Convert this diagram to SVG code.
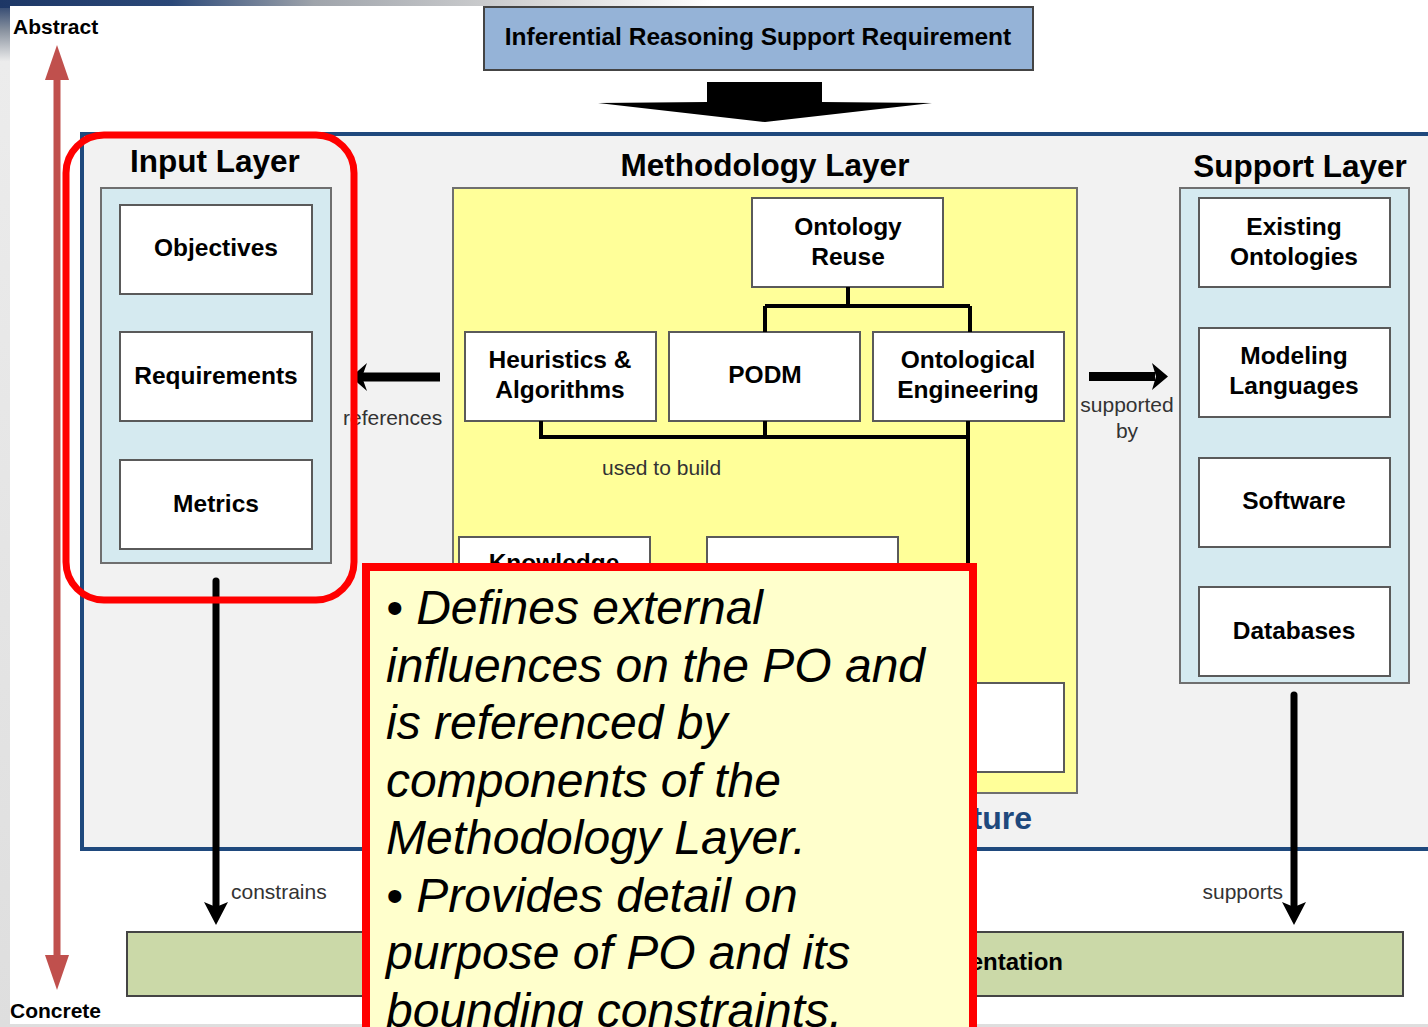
<svg xmlns="http://www.w3.org/2000/svg" width="1428" height="1027" viewBox="0 0 1428 1027">
  <defs>
    <linearGradient id="topBand" x1="0" y1="0" x2="1" y2="0">
      <stop offset="0" stop-color="#1d3766"/>
      <stop offset="0.12" stop-color="#2b4878"/>
      <stop offset="0.22" stop-color="#9fa4ab"/>
      <stop offset="0.38" stop-color="#d8d8d8"/>
      <stop offset="0.5" stop-color="#ffffff"/>
    </linearGradient>
    <linearGradient id="leftBand" x1="0" y1="0" x2="0" y2="1">
      <stop offset="0" stop-color="#1d3766"/>
      <stop offset="0.03" stop-color="#8a93a0"/>
      <stop offset="0.06" stop-color="#ececec"/>
      <stop offset="1" stop-color="#dedede"/>
    </linearGradient>
    <style>
      text { font-family: "Liberation Sans", Arial, sans-serif; fill: #000; }
      .node rect { fill: #ffffff; stroke: #5a5a5a; stroke-width: 2; }
      .node text { font-size: 24.5px; font-weight: bold; text-anchor: middle; }
      .container { stroke: #6f6f6f; stroke-width: 2; }
      .title { font-size: 31.5px; font-weight: bold; text-anchor: middle; }
      .label { font-size: 21px; fill: #333333; }
      .axis { font-size: 21px; font-weight: bold; }
      .wire { stroke: #000; stroke-width: 4; fill: none; }
      .shaft { stroke: #000; stroke-width: 7; stroke-linecap: round; fill: none; }
      .note { font-size: 48px; font-style: italic; }
    </style>
  </defs>

  <!-- slide background -->
  <rect x="0" y="0" width="1428" height="1027" fill="url(#leftBand)"/>
  <rect x="0" y="0" width="1428" height="8" fill="url(#topBand)"/>
  <rect x="10" y="6" width="1418" height="1018" fill="#ffffff"/>

  <!-- abstract / concrete axis -->
  <g id="axis">
    <text class="axis" x="13" y="34">Abstract</text>
    <text class="axis" x="10" y="1018">Concrete</text>
    <rect x="53.5" y="76" width="7" height="882" fill="#c0504d"/>
    <polygon points="45,80 57,45 69,80" fill="#c0504d"/>
    <polygon points="45,955 57,990 69,955" fill="#c0504d"/>
  </g>

  <!-- requirement banner -->
  <g id="requirement">
    <rect x="484" y="7" width="549" height="63" fill="#95b3d7" stroke="#444" stroke-width="2"/>
    <text x="758" y="45" font-size="24.5" font-weight="bold" text-anchor="middle">Inferential Reasoning Support Requirement</text>
  </g>
  <polygon id="req-arrow" points="707,82 822,82 822,102 932,103 765,122 598,103 707,102" fill="#000"/>

  <!-- architecture frame -->
  <g id="architecture">
    <rect x="82" y="134" width="1360" height="715" fill="#f2f2f2" stroke="#1f497d" stroke-width="4"/>
    <text x="1032" y="829" font-size="32" font-weight="bold" text-anchor="end" style="fill:#1f497d">ture</text>
  </g>

  <!-- input layer -->
  <g id="input-layer">
    <text class="title" x="215" y="172">Input Layer</text>
    <rect class="container" x="101" y="188" width="230" height="375" fill="#d5eaf0"/>
  </g>
  <g id="objectives" class="node"><rect x="120" y="205" width="192" height="89"/><text x="216" y="256">Objectives</text></g>
  <g id="requirements" class="node"><rect x="120" y="332" width="192" height="89"/><text x="216" y="384">Requirements</text></g>
  <g id="metrics" class="node"><rect x="120" y="460" width="192" height="89"/><text x="216" y="512">Metrics</text></g>

  <!-- methodology layer -->
  <g id="methodology-layer">
    <text class="title" x="765" y="176">Methodology Layer</text>
    <rect class="container" x="453" y="188" width="624" height="605" fill="#ffff99"/>
    <text class="label" x="602" y="475">used to build</text>
  </g>
  <g id="ontology-reuse" class="node"><rect x="752" y="198" width="191" height="89"/><text x="848" y="235">Ontology</text><text x="848" y="265">Reuse</text></g>
  <g id="heuristics" class="node"><rect x="465" y="332" width="191" height="89"/><text x="560" y="368">Heuristics &amp;</text><text x="560" y="398">Algorithms</text></g>
  <g id="podm" class="node"><rect x="669" y="332" width="191" height="89"/><text x="765" y="383">PODM</text></g>
  <g id="ontological-engineering" class="node"><rect x="873" y="332" width="191" height="89"/><text x="968" y="368">Ontological</text><text x="968" y="398">Engineering</text></g>
  <g id="knowledge" class="node"><rect x="459" y="537" width="191" height="120"/><text x="554" y="571">Knowledge</text></g>
  <g id="method-box-2" class="node"><rect x="707" y="537" width="191" height="120"/></g>
  <g id="method-box-3" class="node"><rect x="873" y="683" width="191" height="89"/></g>

  <!-- support layer -->
  <g id="support-layer">
    <text class="title" x="1300" y="177">Support Layer</text>
    <rect class="container" x="1180" y="188" width="229" height="495" fill="#d5eaf0"/>
  </g>
  <g id="existing-ontologies" class="node"><rect x="1199" y="198" width="191" height="89"/><text x="1294" y="235">Existing</text><text x="1294" y="265">Ontologies</text></g>
  <g id="modeling-languages" class="node"><rect x="1199" y="328" width="191" height="89"/><text x="1294" y="364">Modeling</text><text x="1294" y="394">Languages</text></g>
  <g id="software" class="node"><rect x="1199" y="458" width="191" height="89"/><text x="1294" y="509">Software</text></g>
  <g id="databases" class="node"><rect x="1199" y="587" width="191" height="89"/><text x="1294" y="639">Databases</text></g>

  <!-- implementation bar -->
  <g id="implementation">
    <rect x="127" y="932" width="1276" height="64" fill="#cbd9a8" stroke="#444" stroke-width="2"/>
    <text x="1063" y="970" font-size="24" font-weight="bold" text-anchor="end">entation</text>
  </g>

  <!-- connectors -->
  <g id="connectors">
    <path class="wire" d="M848,287 V306 M765,306 H970 M765,306 V332 M970,306 V332"/>
    <path class="wire" d="M541,421 V437 H968 M765,421 V437 M968,421 V600"/>
    <!-- references -->
    <rect x="360" y="372.5" width="80" height="9" fill="#000"/>
    <polygon points="351,377 367,363 362,377 367,391" fill="#000"/>
    <text class="label" x="343" y="425">references</text>
    <!-- supported by -->
    <rect x="1089" y="372" width="66" height="9" fill="#000"/>
    <polygon points="1152,363 1168,376.5 1152,390 1156,376.5" fill="#000"/>
    <text class="label" x="1127" y="412" text-anchor="middle">supported</text>
    <text class="label" x="1127" y="438" text-anchor="middle">by</text>
    <!-- constrains -->
    <line class="shaft" x1="216" y1="581" x2="216" y2="908"/>
    <polygon points="204,902 216,925 228,902 216,907" fill="#000"/>
    <text class="label" x="231" y="899">constrains</text>
    <!-- supports -->
    <line class="shaft" x1="1294" y1="695" x2="1294" y2="908"/>
    <polygon points="1282,902 1294,925 1306,902 1294,907" fill="#000"/>
    <text class="label" x="1283" y="899" text-anchor="end">supports</text>
  </g>

  <!-- callout note -->
  <g id="note">
    <rect x="366" y="567" width="607" height="500" fill="#ffffcc" stroke="#ff0000" stroke-width="8"/>
    <text class="note" x="386" y="624">• Defines external</text>
    <text class="note" x="386" y="681.5">influences on the PO and</text>
    <text class="note" x="386" y="739">is referenced by</text>
    <text class="note" x="386" y="796.5">components of the</text>
    <text class="note" x="386" y="854">Methodology Layer.</text>
    <text class="note" x="386" y="911.5">• Provides detail on</text>
    <text class="note" x="386" y="969">purpose of PO and its</text>
    <text class="note" x="386" y="1026.5">bounding constraints.</text>
  </g>

  <!-- highlight round the input layer -->
  <rect id="input-highlight" x="66" y="135" width="288" height="465" rx="38" ry="38" fill="none" stroke="#ff0000" stroke-width="7"/>
</svg>
